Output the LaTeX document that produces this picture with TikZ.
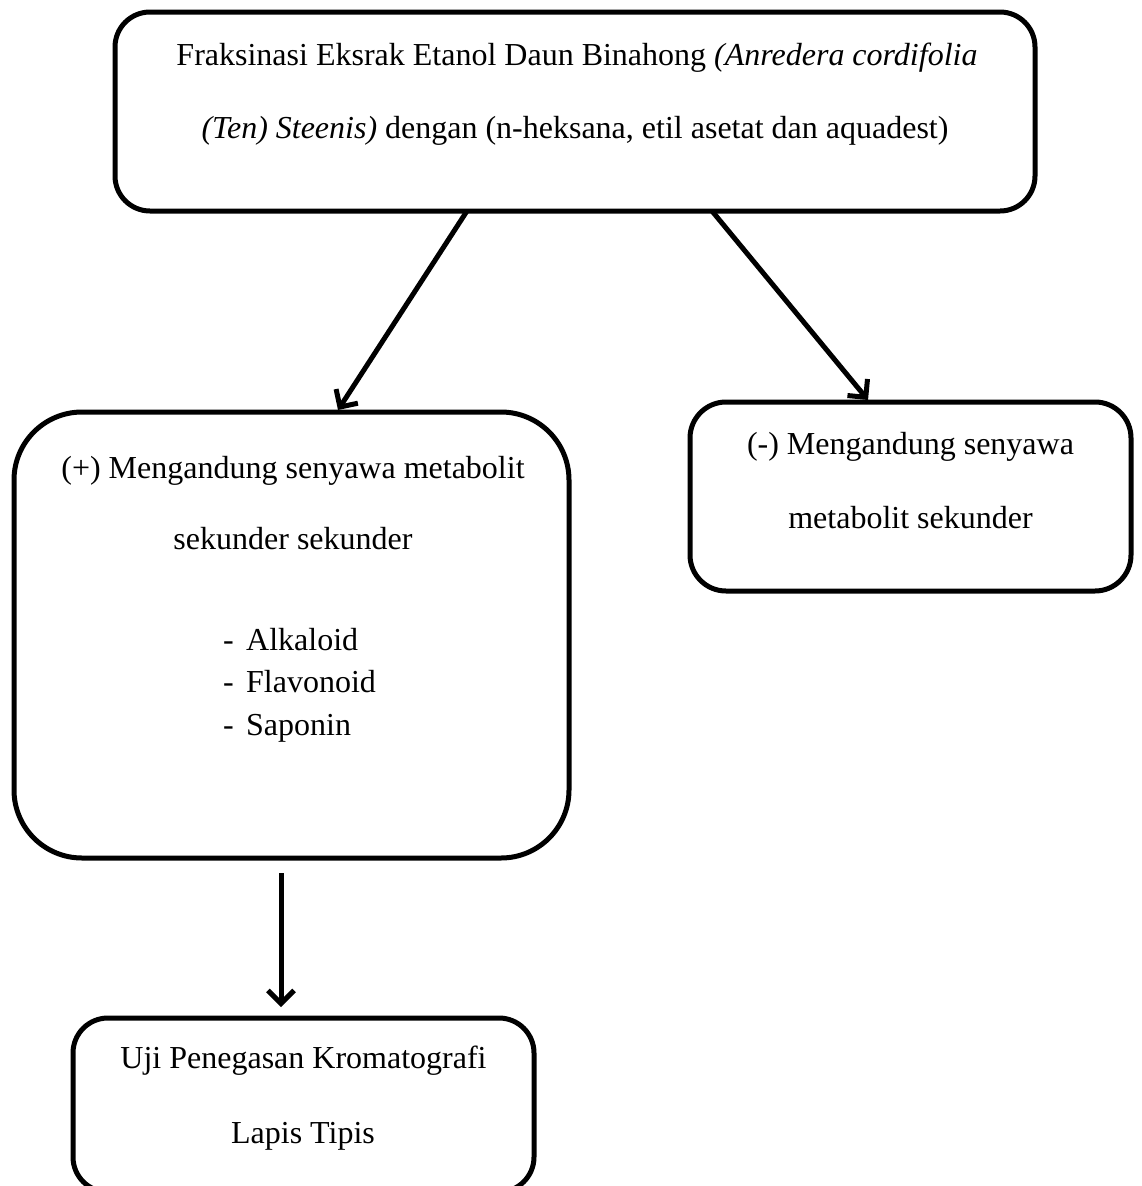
\documentclass[tikz,border=0pt]{standalone}
\usepackage{fontspec}
\setmainfont{Liberation Serif}
\usetikzlibrary{arrows.meta,calc}
\tikzset{
  box/.style={draw=black, line width=5pt, rectangle, outer sep=0pt, inner sep=0pt},
  txt/.style={inner sep=0pt, anchor=base, font=\fontsize{32}{38}\selectfont},
  ltxt/.style={inner sep=0pt, anchor=base west, font=\fontsize{32}{38}\selectfont},
  arr/.style={line width=5pt, -{Straight Barb[length=13pt,width=26pt]}},
}
\begin{document}
\begin{tikzpicture}[x=1pt,y=-1pt]
\useasboundingbox (0,0) rectangle (1141,1186);
\clip (0,0) rectangle (1141,1186);
\fill[white] (0,0) rectangle (1141,1186);
% boxes
\node[box, rounded corners=35pt, minimum width=920pt, minimum height=199pt] (top) at (575,111.5) {};
\node[box, rounded corners=68pt, minimum width=555pt, minimum height=446pt] (pos) at (291.5,635) {};
\node[box, rounded corners=36pt, minimum width=441pt, minimum height=189pt] (neg) at (910.5,496.5) {};
\node[box, rounded corners=35pt, minimum width=461pt, minimum height=174pt] (klt) at (303.5,1105) {};
% texts
\node[txt] (t1) at (577,65) {Fraksinasi Eksrak Etanol Daun Binahong \textit{(Anredera cordifolia}};
\node[txt] (t2) at (575,138) {\textit{(Ten) Steenis)} dengan (n-heksana, etil asetat dan aquadest)};
\node[txt] (p1) at (293,478) {(+) Mengandung senyawa metabolit};
\node[txt] (p2) at (293,549) {sekunder sekunder};
\node[ltxt] (l1) at (223,650) {\makebox[23pt][l]{-}Alkaloid};
\node[ltxt] (l2) at (223,692) {\makebox[23pt][l]{-}Flavonoid};
\node[ltxt] (l3) at (223,735) {\makebox[23pt][l]{-}Saponin};
\node[txt] (n1) at (910.5,454) {(-) Mengandung senyawa};
\node[txt] (n2) at (910.5,528) {metabolit sekunder};
\node[txt] (k1) at (303.5,1068) {Uji Penegasan Kromatografi};
\node[txt] (k2) at (303,1143) {Lapis Tipis};
% connectors
\draw[arr] ([xshift=352pt]top.south west) -- ([xshift=324pt,yshift=2pt]pos.north west);
\draw[arr] ([xshift=597pt]top.south west) -- ([xshift=178pt,yshift=2pt]neg.north west);
\draw[arr] ([xshift=267pt,yshift=-15pt]pos.south west) -- ([xshift=208pt,yshift=11pt]klt.north west);
\end{tikzpicture}
\end{document}
